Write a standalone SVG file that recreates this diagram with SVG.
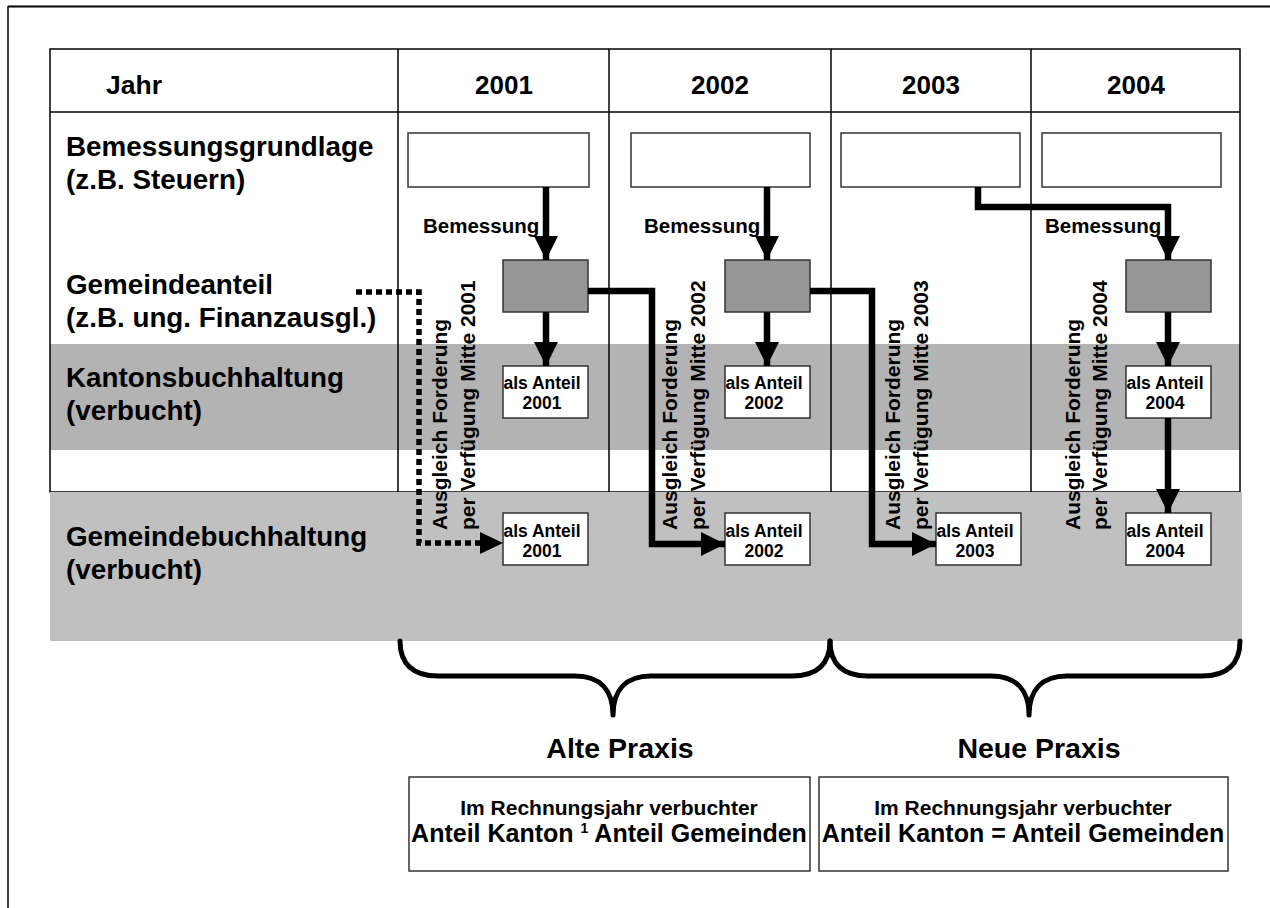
<svg xmlns="http://www.w3.org/2000/svg" width="1270" height="908" viewBox="0 0 1270 908">
<defs>
<style>
text{font-family:"Liberation Sans",Arial,sans-serif;font-weight:bold;fill:#000}
.lbl{font-size:27.8px}
.hdr{font-size:26.5px}
.yr{font-size:26px;text-anchor:middle}
.bem{font-size:20.5px}
.sm{font-size:17.5px;text-anchor:middle}
.vt{font-size:21px}
.px{font-size:28.5px;text-anchor:middle}
.b1{font-size:21px;text-anchor:middle}
.b2{font-size:25px;text-anchor:middle}
.grid{stroke:#000;stroke-width:1.5;fill:none}
.wbox{fill:#fff;stroke:#333;stroke-width:1.5}
.gbox{fill:#969696;stroke:#333;stroke-width:1.5}
.con{fill:none;stroke:#000;stroke-width:6.5}
.dot{fill:none;stroke:#000;stroke-width:5.5;stroke-dasharray:6 4}
.brace{fill:none;stroke:#000;stroke-width:5;stroke-linecap:round;stroke-linejoin:round}
</style>
<marker id="ah" viewBox="0 0 10 10" refX="10" refY="5" markerUnits="userSpaceOnUse" markerWidth="26" markerHeight="24" orient="auto">
<path d="M0,0 L10,5 L0,10 Z" fill="#000"/>
</marker>
</defs>
<rect width="1270" height="908" fill="#fff"/>
<g id="frame">
<line x1="8" y1="6.5" x2="1270" y2="6.5" stroke="#000" stroke-width="2"/>
<line x1="8" y1="6" x2="8" y2="908" stroke="#000" stroke-width="1.5"/>
</g>
<g id="bands">
<rect x="50" y="344" width="1190" height="106" fill="#b3b3b3"/>
</g>
<g id="table">
<rect x="50" y="49" width="1190" height="443" class="grid"/>
<line x1="50" y1="112" x2="1240" y2="112" class="grid"/>
<line x1="398" y1="49" x2="398" y2="492" class="grid"/>
<line x1="609" y1="49" x2="609" y2="492" class="grid"/>
<line x1="831" y1="49" x2="831" y2="492" class="grid"/>
<line x1="1031" y1="49" x2="1031" y2="492" class="grid"/>
<rect x="50" y="492" width="1192" height="149" fill="#c0c0c0"/>
</g>
<g id="row-labels">
<text class="hdr" x="106" y="94">Jahr</text>
<text class="yr" x="504" y="94">2001</text>
<text class="yr" x="720" y="94">2002</text>
<text class="yr" x="931" y="94">2003</text>
<text class="yr" x="1136" y="94">2004</text>
<text class="lbl" x="66" y="156">Bemessungsgrundlage</text>
<text class="lbl" x="66" y="189">(z.B. Steuern)</text>
<text class="lbl" x="66" y="294">Gemeindeanteil</text>
<text class="lbl" x="66" y="327">(z.B. ung. Finanzausgl.)</text>
<text class="lbl" x="66" y="387">Kantonsbuchhaltung</text>
<text class="lbl" x="66" y="420">(verbucht)</text>
<text class="lbl" x="66" y="546">Gemeindebuchhaltung</text>
<text class="lbl" x="66" y="579">(verbucht)</text>
</g>
<g id="bg2001"><rect class="wbox" x="408" y="133" width="181" height="54"/></g>
<g id="bg2002"><rect class="wbox" x="631" y="133" width="179" height="54"/></g>
<g id="bg2003"><rect class="wbox" x="841" y="133" width="179" height="54"/></g>
<g id="bg2004"><rect class="wbox" x="1042" y="133" width="179" height="54"/></g>
<g id="ga2001"><rect class="gbox" x="503" y="260" width="85" height="52"/></g>
<g id="ga2002"><rect class="gbox" x="725" y="260" width="85" height="52"/></g>
<g id="ga2004"><rect class="gbox" x="1126" y="260" width="85" height="52"/></g>
<g id="kb2001"><rect class="wbox" x="503" y="366" width="85" height="52"/><text class="sm" x="542" y="389">als Anteil</text><text class="sm" x="542" y="409">2001</text></g>
<g id="kb2002"><rect class="wbox" x="725" y="366" width="85" height="52"/><text class="sm" x="764" y="389">als Anteil</text><text class="sm" x="764" y="409">2002</text></g>
<g id="kb2004"><rect class="wbox" x="1126" y="366" width="85" height="52"/><text class="sm" x="1165" y="389">als Anteil</text><text class="sm" x="1165" y="409">2004</text></g>
<g id="gb2001"><rect class="wbox" x="503" y="513" width="85" height="52"/><text class="sm" x="542" y="537">als Anteil</text><text class="sm" x="542" y="557">2001</text></g>
<g id="gb2002"><rect class="wbox" x="725" y="513" width="85" height="52"/><text class="sm" x="764" y="537">als Anteil</text><text class="sm" x="764" y="557">2002</text></g>
<g id="gb2003"><rect class="wbox" x="936" y="513" width="85" height="52"/><text class="sm" x="975" y="537">als Anteil</text><text class="sm" x="975" y="557">2003</text></g>
<g id="gb2004"><rect class="wbox" x="1126" y="513" width="85" height="52"/><text class="sm" x="1165" y="537">als Anteil</text><text class="sm" x="1165" y="557">2004</text></g>
<g id="connectors">
<path class="con" d="M546,187 V260" marker-end="url(#ah)"/>
<path class="con" d="M767,187 V260" marker-end="url(#ah)"/>
<path class="con" d="M978,187 V207 H1168 V260" marker-end="url(#ah)"/>
<path class="con" d="M546,312 V366" marker-end="url(#ah)"/>
<path class="con" d="M767,312 V366" marker-end="url(#ah)"/>
<path class="con" d="M1168,312 V366" marker-end="url(#ah)"/>
<path class="con" d="M1168,418 V513" marker-end="url(#ah)"/>
<path class="con" d="M588,291 H652 V544 H725" marker-end="url(#ah)"/>
<path class="con" d="M810,291 H872 V544 H936" marker-end="url(#ah)"/>
<path class="dot" d="M356,292 H419 V543 H482"/>
<path d="M480,532 L503,543 L480,554 Z" fill="#000"/>
</g>
<g id="connector-labels">
<text class="bem" x="423" y="233">Bemessung</text>
<text class="bem" x="644" y="233">Bemessung</text>
<text class="bem" x="1045" y="233">Bemessung</text>
<text class="vt" transform="translate(447,530) rotate(-90)">Ausgleich Forderung</text>
<text class="vt" transform="translate(475,530) rotate(-90)">per Verfügung Mitte 2001</text>
<text class="vt" transform="translate(677,530) rotate(-90)">Ausgleich Forderung</text>
<text class="vt" transform="translate(705,530) rotate(-90)">per Verfügung Mitte 2002</text>
<text class="vt" transform="translate(900,530) rotate(-90)">Ausgleich Forderung</text>
<text class="vt" transform="translate(928,530) rotate(-90)">per Verfügung Mitte 2003</text>
<text class="vt" transform="translate(1080,530) rotate(-90)">Ausgleich Forderung</text>
<text class="vt" transform="translate(1107,530) rotate(-90)">per Verfügung Mitte 2004</text>
</g>
<g id="braces">
<path class="brace" d="M400,641 C400,664 413,676 438,676 L575,676 C600,676 613,690 613,715 C613,690 626,676 651,676 L792,676 C817,676 830,664 830,641"/>
<path class="brace" d="M830,641 C830,664 843,676 868,676 L991,676 C1016,676 1029,690 1029,715 C1029,690 1042,676 1067,676 L1202,676 C1227,676 1240,664 1240,641"/>
</g>
<g id="alte">
<text class="px" x="620" y="758">Alte Praxis</text>
<rect class="wbox" x="409" y="777" width="401" height="94" stroke="#000"/>
<text class="b1" x="609" y="815">Im Rechnungsjahr verbuchter</text>
<text class="b2" x="609" y="842">Anteil Kanton <tspan font-size="14" dy="-9">1</tspan><tspan dy="9"> Anteil Gemeinden</tspan></text>
</g>
<g id="neue">
<text class="px" x="1039" y="758">Neue Praxis</text>
<rect class="wbox" x="819" y="777" width="409" height="94" stroke="#000"/>
<text class="b1" x="1023" y="815">Im Rechnungsjahr verbuchter</text>
<text class="b2" x="1023" y="842">Anteil Kanton = Anteil Gemeinden</text>
</g>
</svg>
